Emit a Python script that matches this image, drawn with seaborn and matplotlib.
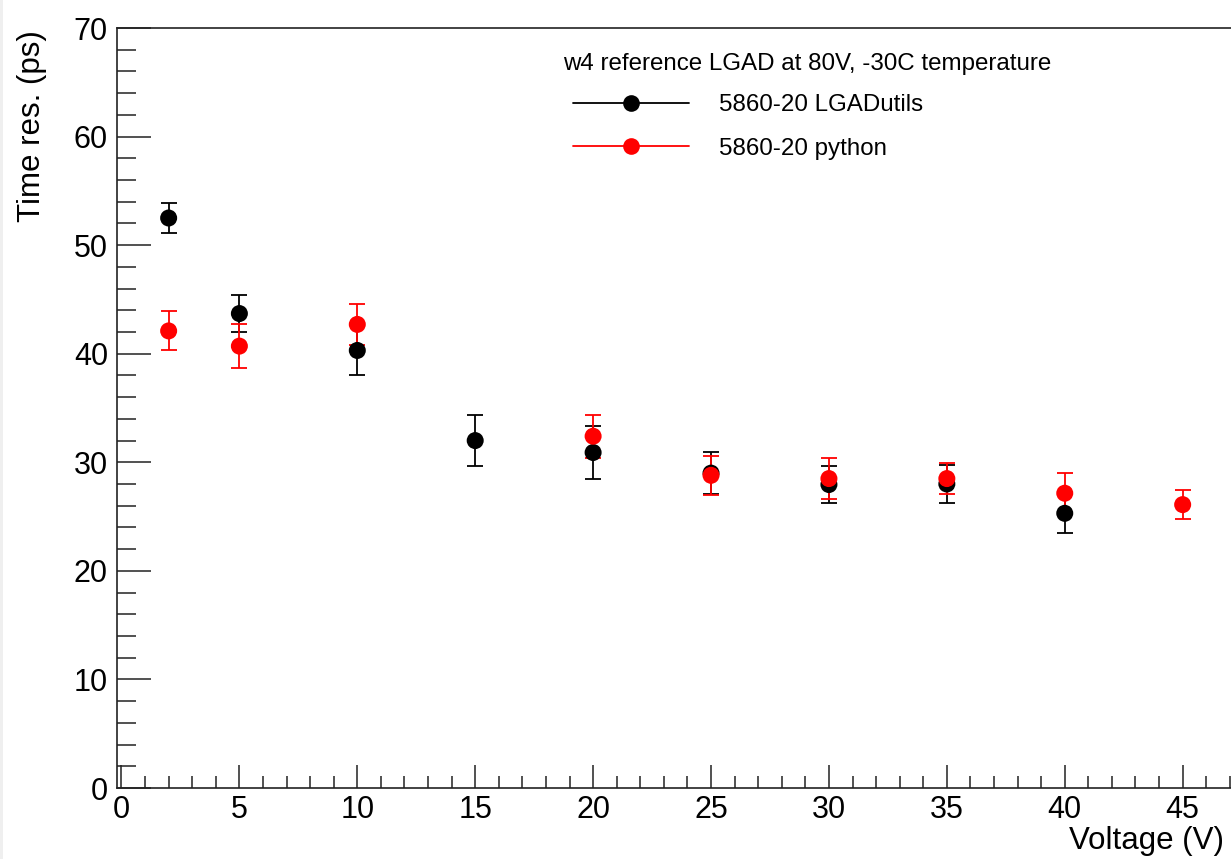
import numpy as np
import pandas as pd
import matplotlib
matplotlib.use("Agg")
import matplotlib.pyplot as plt
import seaborn as sns
from matplotlib.lines import Line2D
from matplotlib.patches import Rectangle
from matplotlib.ticker import MultipleLocator
from matplotlib.legend_handler import HandlerLine2D

# ---- data ----
volt_utils = [2, 5, 10, 15, 20, 25, 30, 35, 40]
res_utils = [52.5, 43.7, 40.3, 32.0, 30.9, 29.0, 27.95, 28.0, 25.3]
err_utils = [1.4, 1.7, 2.3, 2.35, 2.4, 1.95, 1.7, 1.75, 1.8]

volt_py = [2, 5, 10, 20, 25, 30, 35, 40, 45]
res_py = [42.1, 40.7, 42.7, 32.4, 28.8, 28.5, 28.5, 27.15, 26.1]
err_py = [1.8, 2.0, 1.9, 2.0, 1.8, 1.85, 1.45, 1.85, 1.35]

label_utils = "5860-20 LGADutils"
label_py = "5860-20 python"
legend_title = "w4 reference LGAD at 80V, -30C temperature"
xlabel = "Voltage (V)"
ylabel = "Time res. (ps)"

df = pd.concat([
    pd.DataFrame({"V": volt_utils, "res": res_utils, "err": err_utils, "series": label_utils}),
    pd.DataFrame({"V": volt_py, "res": res_py, "err": err_py, "series": label_py}),
], ignore_index=True)

sns.set_theme(style="ticks")
plt.rcParams["font.family"] = ["Liberation Sans", "DejaVu Sans"]
plt.rcParams["text.color"] = "black"
plt.rcParams["axes.labelcolor"] = "black"
plt.rcParams["xtick.color"] = "black"
plt.rcParams["ytick.color"] = "black"

W, H = 1231, 859
fig = plt.figure(figsize=(W / 100, H / 100), dpi=100)
fig.add_artist(Rectangle((0, 0), 3 / W, 1, transform=fig.transFigure,
                         facecolor="#efefef", edgecolor="none", zorder=-5))

x0px, x1px = 117, 1253.4
ax = fig.add_axes([x0px / W, (H - 788) / H, (x1px - x0px) / W, (788 - 28) / H])

palette = {label_utils: "black", label_py: "#ff0000"}
for name in [label_utils, label_py]:
    sub = df[df["series"] == name]
    ax.errorbar(sub["V"], sub["res"], yerr=sub["err"], fmt="none",
                ecolor=palette[name], elinewidth=1.3, capsize=6, capthick=1.3,
                zorder=2 if name == label_utils else 4)
sns.scatterplot(data=df, x="V", y="res", hue="series", palette=palette,
                s=150, edgecolor="none", linewidth=0, ax=ax, legend=False, zorder=5)

ax.set_xlim(-0.19, 48)
ax.set_ylim(0, 70)
ax.xaxis.set_major_locator(MultipleLocator(5))
ax.xaxis.set_minor_locator(MultipleLocator(1))
ax.yaxis.set_major_locator(MultipleLocator(10))
ax.yaxis.set_minor_locator(MultipleLocator(2))
ax.tick_params(axis="x", which="major", direction="in", length=16.5, width=1.1,
               labelsize=22, pad=5, top=False, color="#222222", labelcolor="black")
ax.tick_params(axis="x", which="minor", direction="in", length=8.6, width=1.1,
               top=False, color="#222222")
ax.tick_params(axis="y", which="major", direction="in", length=24.5, width=1.1,
               labelsize=22, pad=6.5, right=False, color="#222222", labelcolor="black")
ax.tick_params(axis="y", which="minor", direction="in", length=13.5, width=1.1,
               right=False, color="#222222")
for s in ax.spines.values():
    s.set_linewidth(1.2)
    s.set_color("#222222")

ax.set_xlabel(xlabel, fontsize=22.5, loc="right", color="black")
ax.xaxis.set_label_coords((1224 - x0px) / (x1px - x0px), -(826 - 788) / 760)
ax.set_ylabel(ylabel, fontsize=22.5, loc="top", color="black")
ax.yaxis.set_label_coords((47 - x0px) / (x1px - x0px), 1 - 2 / 760)

handles = [
    Line2D([0], [0], color="black", lw=1.3, marker="o", markersize=12, markeredgewidth=0),
    Line2D([0], [0], color="#ff0000", lw=1.3, marker="o", markersize=12, markeredgewidth=0),
]
fs = 17.4
leg = ax.legend(handles, [label_utils, label_py], title=legend_title,
                loc="upper left", bbox_to_anchor=(563 / W, 1 - 53 / H),
                bbox_transform=fig.transFigure, frameon=False, fontsize=fs,
                title_fontsize=fs, numpoints=1, handlelength=5.2,
                handletextpad=1.24, labelspacing=0.88, borderpad=0,
                borderaxespad=0, alignment="left",
                handler_map={Line2D: HandlerLine2D(numpoints=1, xpad=0.41)})
leg._legend_box.sep = 14
for t in leg.get_texts():
    t.set_color("black")
leg.get_title().set_color("black")

fig.savefig("out.png", dpi=100)
